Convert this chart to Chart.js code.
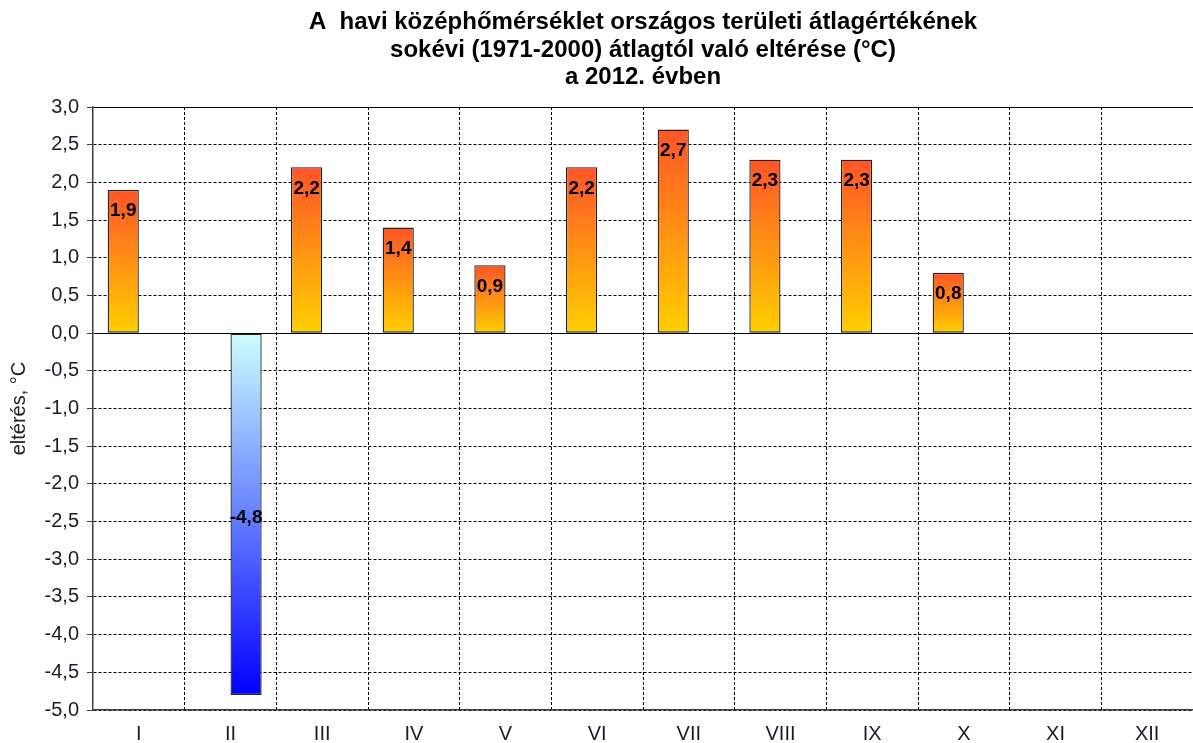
<!DOCTYPE html>
<html>
<head>
<meta charset="utf-8">
<script src="https://cdn.jsdelivr.net/npm/chart.js@4/dist/chart.umd.min.js"></script>
<style>
  html, body { margin: 0; padding: 0; background: #fff; }
  #wrap { width: 1193px; height: 743px; }
</style>
</head>
<body>
<div id="wrap"><canvas id="devChart"></canvas></div>
<script>
// Monthly deviation of national mean temperature from 1971-2000 normal, 2012
const months = ['I', 'II', 'III', 'IV', 'V', 'VI', 'VII', 'VIII', 'IX', 'X', 'XI', 'XII'];
const deviations = [1.9, -4.8, 2.2, 1.4, 0.9, 2.2, 2.7, 2.3, 2.3, 0.8, null, null];
const titleLines = [
  'A  havi középhőmérséklet országos területi átlagértékének',
  'sokévi (1971-2000) átlagtól való eltérése (°C)',
  'a 2012. évben'
];
const yTitle = 'eltérés, °C';

// positive and negative months go into separate series (like the original sheet)
const warm = deviations.map(v => (v != null && v >= 0) ? v : null);
const cold = deviations.map(v => (v != null && v < 0) ? v : null);

const FONT = "'Liberation Sans', Arial, sans-serif";
const fmt = v => v.toFixed(1).replace('.', ',');

// gradient per bar: from bar top to the zero line
function barGradient(top, bottom) {
  return ctx => {
    const chart = ctx.chart;
    const y = chart.scales.y;
    const v = ctx.raw;
    if (!y || v == null) return top;
    const y0 = y.getPixelForValue(0), y1 = y.getPixelForValue(v);
    if (!isFinite(y0) || !isFinite(y1) || y0 === y1) return top;
    const g = chart.ctx.createLinearGradient(0, Math.min(y0, y1), 0, Math.max(y0, y1));
    g.addColorStop(0, top);
    g.addColorStop(1, bottom);
    return g;
  };
}

const valueLabels = {
  id: 'valueLabels',
  afterDatasetsDraw(chart) {
    const c = chart.ctx;
    c.save();
    c.font = 'bold 19px ' + FONT;
    c.fillStyle = '#000';
    c.textAlign = 'center';
    c.textBaseline = 'middle';
    chart.data.datasets.forEach((ds, i) => {
      chart.getDatasetMeta(i).data.forEach((el, j) => {
        const v = ds.data[j];
        if (v == null) return;
        const ty = v >= 0 ? el.y + 21 : (el.y + el.base) / 2 + 3;
        c.fillText(fmt(v), el.x, ty);
      });
    });
    c.restore();
  }
};

// title centred over the plot area, y-axis title on the left
const titles = {
  id: 'titles',
  afterDraw(chart) {
    const c = chart.ctx, a = chart.chartArea;
    c.save();
    c.fillStyle = '#000';
    c.textAlign = 'center';
    c.textBaseline = 'alphabetic';
    c.font = 'bold 24px ' + FONT;
    const cx = (a.left + a.right) / 2;
    titleLines.forEach((line, i) => c.fillText(line, cx, 29 + i * 27.5));

    c.font = '20px ' + FONT;
    c.fillStyle = '#222';
    c.textBaseline = 'middle';
    c.translate(19, (a.top + a.bottom) / 2);
    c.rotate(-Math.PI / 2);
    c.fillText(yTitle, 0, 0);
    c.restore();
  }
};

new Chart(document.getElementById('devChart'), {
  type: 'bar',
  data: {
    labels: months,
    datasets: [
      {
        label: 'warm',
        data: warm,
        backgroundColor: barGradient('#ff5427', '#ffcf00'),
        borderColor: '#222',
        borderWidth: 1.3,
        borderSkipped: false
      },
      {
        label: 'cold',
        data: cold,
        backgroundColor: barGradient('#ccffff', '#0000ff'),
        borderColor: '#222',
        borderWidth: 1.3,
        borderSkipped: false
      }
    ]
  },
  options: {
    responsive: true,
    maintainAspectRatio: false,
    animation: false,
    categoryPercentage: 0.68,
    barPercentage: 1,
    layout: { padding: { left: 0, right: 0, top: 107, bottom: 0 } },
    plugins: {
      legend: { display: false },
      tooltip: { enabled: false },
      title: { display: false }
    },
    scales: {
      x: {
        afterFit: s => { s.height = 33; },
        grid: {
          offset: true,
          color: ctx => ctx.type === 'tick' ? '#000' : 'rgba(0,0,0,0)',
          lineWidth: 1,
          drawTicks: false
        },
        border: { display: true, color: '#404040', width: 1.5, dash: [3, 2] },
        ticks: {
          color: '#1b1b2b',
          padding: 12,
          font: { family: FONT, size: 20 }
        }
      },
      y: {
        min: -5,
        max: 3,
        afterFit: s => { s.width = 93; },
        grid: {
          color: '#000',
          lineWidth: 1,
          tickLength: 6,
          tickColor: '#404040',
          tickBorderDash: []
        },
        border: {
          display: true,
          color: '#404040',
          width: 1.5,
          dash: ctx => (ctx.tick && (ctx.tick.value === 0 || ctx.tick.value === 3)) ? [] : [3, 2]
        },
        ticks: {
          stepSize: 0.5,
          color: '#1b1b2b',
          padding: 8,
          font: { family: FONT, size: 20 },
          callback: v => fmt(v)
        }
      }
    }
  },
  plugins: [valueLabels, titles]
});
</script>
</body>
</html>
